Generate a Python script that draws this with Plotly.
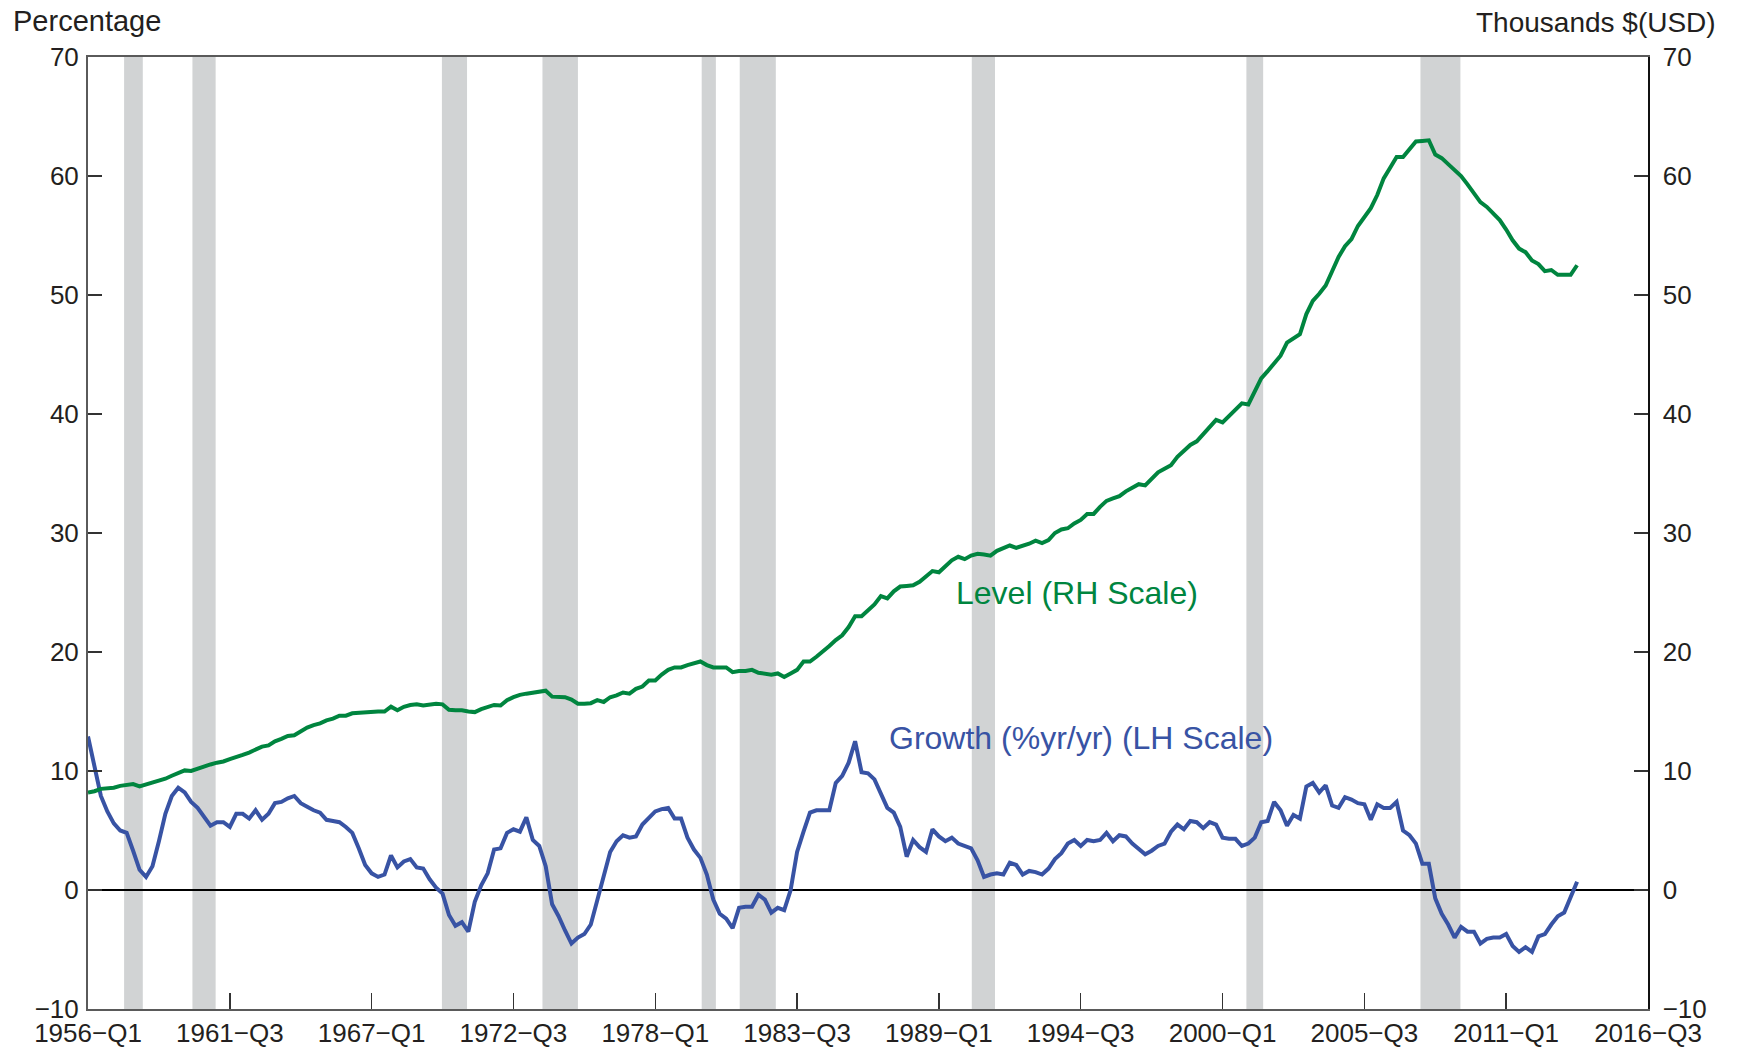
import plotly.graph_objects as go

# ---- data (quarterly, 1956-Q1 onward) ----
growth = [12.9, 10.3, 7.9, 6.6, 5.6, 5.0, 4.8, 3.3, 1.7, 1.1,
          2.0, 4.1, 6.4, 7.9, 8.6, 8.2, 7.4, 6.9, 6.1, 5.4,
          5.7, 5.7, 5.3, 6.4, 6.4, 6.0, 6.7, 5.9, 6.4, 7.3,
          7.4, 7.7, 7.9, 7.3, 7.0, 6.7, 6.5, 5.9, 5.8, 5.7,
          5.3, 4.8, 3.5, 2.1, 1.4, 1.1, 1.3, 2.9, 1.9, 2.4,
          2.6, 1.9, 1.8, 0.9, 0.2, -0.3, -2.1, -3.0, -2.7, -3.5,
          -1.0, 0.4, 1.4, 3.4, 3.5, 4.8, 5.1, 4.9, 6.1, 4.2,
          3.7, 2.0, -1.2, -2.2, -3.4, -4.5, -4.0, -3.7, -2.9, -0.8,
          1.4, 3.2, 4.1, 4.6, 4.4, 4.5, 5.5, 6.1, 6.6, 6.8,
          6.9, 6.0, 6.0, 4.4, 3.4, 2.7, 1.3, -0.8, -2.0, -2.4,
          -3.2, -1.5, -1.4, -1.4, -0.4, -0.8, -1.9, -1.5, -1.7, 0.0,
          3.2, 4.9, 6.5, 6.7, 6.7, 6.7, 9.0, 9.6, 10.7, 12.5,
          9.9, 9.8, 9.3, 8.1, 6.9, 6.5, 5.3, 2.8, 4.2, 3.6,
          3.2, 5.1, 4.5, 4.1, 4.4, 3.9, 3.7, 3.5, 2.5, 1.1,
          1.3, 1.4, 1.3, 2.3, 2.1, 1.3, 1.6, 1.5, 1.3, 1.8,
          2.6, 3.1, 3.9, 4.2, 3.7, 4.2, 4.1, 4.2, 4.8, 4.1,
          4.6, 4.5, 3.9, 3.5, 3.0, 3.3, 3.7, 3.9, 4.9, 5.5,
          5.1, 5.8, 5.7, 5.2, 5.7, 5.5, 4.4, 4.3, 4.3, 3.7,
          3.9, 4.4, 5.7, 5.8, 7.4, 6.7, 5.4, 6.3, 6.0, 8.7,
          9.0, 8.2, 8.8, 7.1, 6.9, 7.8, 7.6, 7.3, 7.2, 5.9,
          7.2, 6.9, 6.9, 7.4, 5.0, 4.6, 3.9, 2.2, 2.2, -0.7,
          -2.0, -2.9, -4.0, -3.1, -3.5, -3.5, -4.5, -4.1, -4.0, -4.0,
          -3.7, -4.7, -5.2, -4.8, -5.2, -3.9, -3.7, -2.9, -2.2, -1.9,
          -0.7, 0.7]

level = [8.2, 8.3, 8.5, 8.55, 8.6, 8.75, 8.85, 8.9, 8.7, 8.85,
         9.0, 9.2, 9.35, 9.6, 9.8, 10.05, 10.0, 10.2, 10.4, 10.55,
         10.7, 10.8, 11.0, 11.15, 11.35, 11.55, 11.8, 12.05, 12.15, 12.5,
         12.7, 12.95, 13.0, 13.35, 13.65, 13.85, 14.0, 14.25, 14.4, 14.65,
         14.65, 14.85, 14.9, 14.9, 14.95, 15.0, 15.0, 15.4, 15.1, 15.4,
         15.55, 15.6, 15.5, 15.6, 15.65, 15.6, 15.15, 15.1, 15.1, 15.0,
         14.95, 15.2, 15.35, 15.55, 15.5, 15.95, 16.2, 16.4, 16.5, 16.6,
         16.7, 16.75, 16.25, 16.25, 16.2, 16.0, 15.65, 15.65, 15.7, 15.95,
         15.8, 16.2, 16.35, 16.6, 16.5, 16.9, 17.1, 17.6, 17.6, 18.1,
         18.5, 18.7, 18.7, 18.9, 19.05, 19.2, 18.9, 18.7, 18.7, 18.7,
         18.3, 18.4, 18.4, 18.5, 18.25, 18.2, 18.1, 18.2, 17.9, 18.2,
         18.5, 19.2, 19.2, 19.6, 20.0, 20.5, 21.0, 21.4, 22.1, 23.0,
         23.0, 23.5, 24.0, 24.7, 24.5, 25.1, 25.5, 25.55, 25.6, 25.9,
         26.3, 26.8, 26.7, 27.2, 27.7, 28.0, 27.8, 28.1, 28.25, 28.2,
         28.1, 28.5, 28.7, 28.95, 28.75, 28.9, 29.1, 29.35, 29.15, 29.4,
         30.0, 30.3, 30.4, 30.8, 31.1, 31.6, 31.6, 32.2, 32.7, 32.9,
         33.1, 33.5, 33.8, 34.1, 34.0, 34.5, 35.1, 35.4, 35.7, 36.4,
         36.9, 37.4, 37.7, 38.3, 39.0, 39.5, 39.3, 39.8, 40.4, 40.9,
         40.8, 41.9, 43.0, 43.6, 44.2, 44.9, 46.0, 46.4, 46.7, 48.4,
         49.5, 50.1, 50.8, 52.0, 53.2, 54.1, 54.7, 55.8, 56.6, 57.3,
         58.4, 59.8, 60.7, 61.6, 61.6, 62.3, 62.9, 62.95, 63.0, 61.8,
         61.5, 61.0, 60.5, 60.0, 59.3, 58.6, 57.8, 57.4, 56.9, 56.3,
         55.5, 54.6, 53.9, 53.6, 52.9, 52.6, 52.0, 52.1, 51.7, 51.7,
         51.7, 52.5]

# recession shading (in quarters since 1956-Q1)
rec_start = [5.6, 16.2, 54.9, 70.5, 95.2, 101.1, 137.1, 179.7, 206.7]
rec_end = [8.5, 19.8, 58.8, 76.0, 97.4, 106.7, 140.7, 182.3, 212.9]

tick_pos = [0, 22, 44, 66, 88, 110, 132, 154, 176, 198, 220, 242]
tick_labels = ["1956−Q1", "1961−Q3", "1967−Q1", "1972−Q3", "1978−Q1", "1983−Q3",
               "1989−Q1", "1994−Q3", "2000−Q1", "2005−Q3", "2011−Q1", "2016−Q3"]

x_idx = list(range(len(growth)))

GREEN = "#00853f"
BLUE = "#3853a4"
BAR = "#d1d3d4"
FONT = "Liberation Sans, Arial, sans-serif"
TXT = "#231f20"

fig = go.Figure()
fig.add_trace(go.Scatter(x=x_idx, y=level, mode="lines", yaxis="y2",
                         line=dict(color=GREEN, width=4), showlegend=False,
                         hoverinfo="skip"))
fig.add_trace(go.Scatter(x=x_idx, y=growth, mode="lines", yaxis="y",
                         line=dict(color=BLUE, width=4), showlegend=False,
                         hoverinfo="skip"))

for s, e in zip(rec_start, rec_end):
    fig.add_shape(type="rect", xref="x", yref="paper", x0=s, x1=e, y0=0, y1=1,
                  fillcolor=BAR, line=dict(width=0), layer="below")

fig.add_annotation(x=134.3, y=25, xref="x", yref="y", text="Level (RH Scale)",
                   showarrow=False, xanchor="left", yanchor="middle",
                   font=dict(family=FONT, size=32, color=GREEN))
fig.add_annotation(x=124.0, y=12.8, xref="x", yref="y", text="Growth (%yr/yr) (LH Scale)",
                   showarrow=False, xanchor="left", yanchor="middle",
                   font=dict(family=FONT, size=32, color=BLUE))
fig.add_annotation(x=-0.0496, y=1.038, xref="paper", yref="paper", text="Percentage",
                   showarrow=False, xanchor="left", yanchor="middle",
                   font=dict(family=FONT, size=29, color=TXT))
fig.add_annotation(x=1.0449, y=1.036, xref="paper", yref="paper", text="Thousands $(USD)",
                   showarrow=False, xanchor="right", yanchor="middle",
                   font=dict(family=FONT, size=28, color=TXT))

fig.update_layout(
    width=1749, height=1050,
    margin=dict(l=88, r=101, t=57, b=41, pad=0, autoexpand=False),
    paper_bgcolor="white", plot_bgcolor="white",
    font=dict(family=FONT, size=26, color=TXT),
    xaxis=dict(range=[0, 242], tickvals=tick_pos, ticktext=tick_labels,
               ticks="inside", ticklen=16, tickwidth=1.5, tickcolor="#333333",
               showline=True, linecolor="#5a5a5a", linewidth=2, mirror=True,
               showgrid=False, zeroline=False, ticklabelstandoff=0, automargin=False,
               tickfont=dict(family=FONT, size=26, color=TXT)),
    yaxis=dict(range=[-10, 70], dtick=10, ticks="inside", ticklen=14, tickwidth=1.5,
               tickcolor="#333333", showline=True, linecolor="#5a5a5a", linewidth=2,
               showgrid=False, zeroline=True, zerolinecolor="#000000", zerolinewidth=1.2,
               ticklabelstandoff=2, automargin=False,
               tickfont=dict(family=FONT, size=26, color=TXT)),
    yaxis2=dict(range=[-10, 70], dtick=10, overlaying="y", side="right",
                ticks="inside", ticklen=14, tickwidth=1.5, tickcolor="#333333",
                showline=True, linecolor="#111111", linewidth=1.5,
                showgrid=False, zeroline=False, ticklabelstandoff=8, automargin=False,
                tickfont=dict(family=FONT, size=26, color=TXT)),
)

# remove the default page margin so the figure sits at the window's top-left corner
fig.write_html("out.html", config={"displayModeBar": False, "staticPlot": True},
               post_script="document.body.style.margin='0';document.body.style.overflow='hidden';")
